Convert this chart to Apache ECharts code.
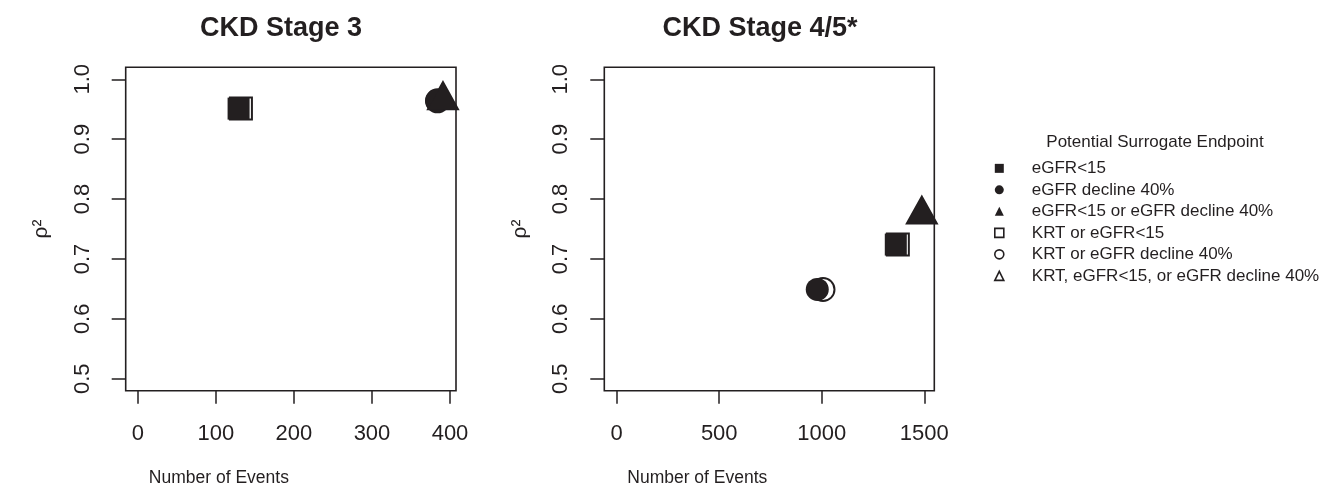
<!DOCTYPE html>
<html>
<head>
<meta charset="utf-8">
<script src="https://cdn.jsdelivr.net/npm/echarts@6/dist/echarts.min.js"></script>
<style>
html, body { margin: 0; padding: 0; background: #ffffff; }
#chart { width: 1320px; height: 496px; }
</style>
</head>
<body>
<div id="chart"></div>
<script>
// ---- data ----
const endpoints = [
  'eGFR<15',
  'eGFR decline 40%',
  'eGFR<15 or eGFR decline 40%',
  'KRT or eGFR<15',
  'KRT or eGFR decline 40%',
  'KRT, eGFR<15, or eGFR decline 40%'
];
const panelTitles = ['CKD Stage 3', 'CKD Stage 4/5*'];
const stage3Events = [129, 383, 391, 132, 384, 391];
const stage3Rho2   = [0.951, 0.964, 0.965, 0.951, 0.964, 0.965];
const stage45Events = [1361, 978, 1488, 1371, 1006, 1488];
const stage45Rho2   = [0.724, 0.649, 0.774, 0.724, 0.649, 0.774];
const stage3XTicks  = [0, 100, 200, 300, 400];
const stage45XTicks = [0, 500, 1000, 1500];
const yTicks = [0.5, 0.6, 0.7, 0.8, 0.9, 1.0];
const xAxisTitle = 'Number of Events';
const yAxisTitle = 'ρ²';
const legendTitle = 'Potential Surrogate Endpoint';

// ---- styling ----
const INK = '#231f20';
const FONT = '"Liberation Sans", Arial, Helvetica, sans-serif';
const symbols = ['rect', 'circle', 'triangle', 'rect', 'circle', 'triangle'];
const filled = [true, true, true, false, false, false];
const sizes = { rect: 22, circle: 23, triangle: [30, 27] };

const chart = echarts.init(document.getElementById('chart'), null, { renderer: 'canvas' });

const grids = [
  { left: 125.7, top: 67.3, width: 330.3, height: 323.4, show: true, borderColor: INK, borderWidth: 1.6, backgroundColor: 'transparent' },
  { left: 604.3, top: 67.3, width: 330, height: 323.4, show: true, borderColor: INK, borderWidth: 1.6, backgroundColor: 'transparent' }
];

function xAxis(gi, min, max, ticks) {
  return {
    type: 'value', gridIndex: gi, min: min, max: max,
    name: xAxisTitle, nameLocation: 'middle', nameGap: 78,
    nameTextStyle: { fontFamily: FONT, fontSize: 17.5, color: INK, padding: [0, 144, 0, 0] },
    axisLine: { show: false, onZero: false },
    splitLine: { show: false },
    axisTick: { show: true, inside: false, length: 13, lineStyle: { color: INK, width: 1.5 }, customValues: ticks },
    axisLabel: { fontFamily: FONT, fontSize: 22, color: INK, margin: 32, customValues: ticks,
      formatter: v => String(v) }
  };
}
function yAxis(gi) {
  return {
    type: 'value', gridIndex: gi, min: 0.48, max: 1.02,
    name: yAxisTitle, nameLocation: 'middle', nameGap: 74, nameRotate: 90,
    nameTextStyle: { fontFamily: FONT, fontSize: 21, color: INK },
    axisLine: { show: false, onZero: false },
    splitLine: { show: false },
    axisTick: { show: true, inside: false, length: 14, lineStyle: { color: INK, width: 1.5 }, customValues: yTicks },
    axisLabel: { fontFamily: FONT, fontSize: 22, color: INK, rotate: 90, margin: 32, customValues: yTicks,
      formatter: v => v.toFixed(1) }
  };
}

const series = [];
[[stage3Events, stage3Rho2], [stage45Events, stage45Rho2]].forEach((pair, gi) => {
  endpoints.forEach((name, i) => {
    const sym = symbols[i];
    const sz = sizes[sym];
    series.push({
      type: 'scatter', name: name, xAxisIndex: gi, yAxisIndex: gi,
      symbol: sym, symbolSize: sz,
      symbolOffset: sym === 'triangle' ? [0, -4.5] : [0, 0],
      data: [[pair[0][i], pair[1][i]]],
      z: filled[i] ? 3 : 2,
      itemStyle: filled[i]
        ? { color: INK, borderWidth: 0, opacity: 1 }
        : { color: 'rgba(255,255,255,0)', borderColor: INK, borderWidth: 2, opacity: 1 },
      emphasis: { disabled: true },
      silent: true
    });
  });
});

const option = {
  animation: false,
  backgroundColor: '#ffffff',
  title: [
    { text: panelTitles[0], left: 281, top: 15, textAlign: 'center', padding: 0,
      textStyle: { fontFamily: FONT, fontSize: 27, fontWeight: 'bold', color: INK } },
    { text: panelTitles[1], left: 760, top: 15, textAlign: 'center', padding: 0,
      textStyle: { fontFamily: FONT, fontSize: 27, fontWeight: 'bold', color: INK } },
    { text: legendTitle, left: 1155, top: 134, textAlign: 'center', padding: 0,
      textStyle: { fontFamily: FONT, fontSize: 17, fontWeight: 'normal', color: INK } }
  ],
  legend: {
    data: endpoints.map((n, i) => ({ name: n, itemStyle: filled[i] ? { color: INK, borderWidth: 0, opacity: 1 } : { color: '#ffffff', borderColor: INK, borderWidth: 1.6, opacity: 1 } })),
    orient: 'vertical', left: 994, top: 157.6, padding: 0,
    itemWidth: 9, itemHeight: 9, itemGap: 0, selectedMode: false,
    textStyle: { fontFamily: FONT, fontSize: 17, color: INK, lineHeight: 21.5, padding: [0, 0, 0, 23] }
  },
  grid: grids,
  xAxis: [xAxis(0, -15.7, 407.7, stage3XTicks), xAxis(1, -60.5, 1548.8, stage45XTicks)],
  yAxis: [yAxis(0), yAxis(1)],
  series: series
};
chart.setOption(option);
</script>
</body>
</html>
